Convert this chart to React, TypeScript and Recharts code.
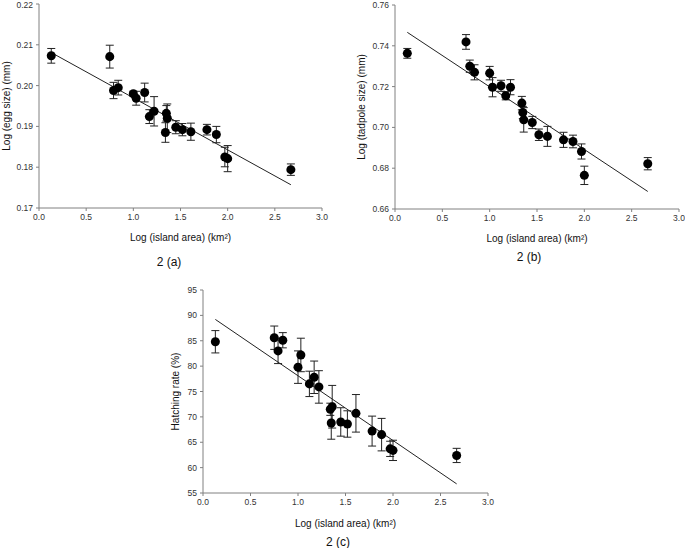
import { ErrorBar, Label, Scatter, ScatterChart, XAxis, YAxis } from "recharts";

// log10 island area (km²), same islands in every panel
const areaLog = [0.13, 0.75, 0.79, 0.84, 1.0, 1.03, 1.12, 1.17, 1.22, 1.34, 1.35, 1.36, 1.45, 1.52, 1.61, 1.78, 1.88, 1.97, 2.0, 2.67];

const eggSize = [0.2073, 0.2071, 0.1988, 0.1995, 0.198, 0.1969, 0.1983, 0.1924, 0.1937, 0.1885, 0.1932, 0.192, 0.1898, 0.1892, 0.1887, 0.1892, 0.188, 0.1825, 0.1821, 0.1794];
const eggErr = [0.0018, 0.0028, 0.002, 0.0018, 0.0006, 0.0017, 0.0023, 0.0017, 0.0036, 0.0024, 0.0019, 0.0035, 0.0016, 0.0015, 0.0021, 0.0013, 0.002, 0.0024, 0.0032, 0.0014];

const tadpoleSize = [0.7363, 0.7419, 0.73, 0.727, 0.7266, 0.7197, 0.7204, 0.7155, 0.7197, 0.7119, 0.7073, 0.7037, 0.7024, 0.6964, 0.6956, 0.6939, 0.6931, 0.6882, 0.6765, 0.6822];
const tadpoleErr = [0.0024, 0.0036, 0.003, 0.0037, 0.0033, 0.0047, 0.0027, 0.002, 0.0037, 0.0033, 0.003, 0.006, 0.003, 0.0028, 0.0049, 0.0037, 0.0031, 0.0037, 0.0045, 0.003];

const hatchRate = [84.8, 85.6, 83.0, 85.1, 79.8, 82.2, 76.5, 77.8, 75.9, 71.5, 68.8, 72.0, 69.0, 68.6, 70.7, 67.2, 66.5, 63.7, 63.4, 62.4];
const hatchErr = [2.2, 2.3, 2.5, 1.5, 3.2, 3.3, 2.5, 3.2, 3.2, 1.2, 3.2, 4.2, 2.8, 2.6, 3.7, 2.95, 3.2, 1.5, 2.0, 1.4];

// regression line end points
const fitX = [0.13, 2.67];
const eggFit = [0.2081, 0.1757];
const tadpoleFit = [0.7466, 0.6686];
const hatchFit = [89.2, 56.8];

const xTicks = [0, 0.5, 1, 1.5, 2, 2.5, 3];
const eggTicks = [0.17, 0.18, 0.19, 0.2, 0.21, 0.22];
const tadpoleTicks = [0.66, 0.68, 0.7, 0.72, 0.74, 0.76];
const hatchTicks = [55, 60, 65, 70, 75, 80, 85, 90, 95];

const FONT = "'Liberation Sans', Arial, sans-serif";
const AXIS = "#808080";
const INK = "#111";

const toPoints = (ys: number[], errs?: number[]) =>
  areaLog.map((x, i) => ({ x, y: ys[i], err: errs ? errs[i] : 0 }));

const noDot = () => <g />;

type PanelProps = {
  left: number;
  top: number;
  width: number;
  height: number;
  margin: { top: number; right: number; bottom: number; left: number };
  yWidth: number;
  xHeight: number;
  yTicks: number[];
  yDigits: number;
  yLabel: string;
  values: number[];
  errors: number[];
  fit: number[];
};

function Panel(p: PanelProps) {
  const tick = { fill: "#333", fontSize: 8.5, fontFamily: FONT };
  return (
    <div style={{ position: "absolute", left: p.left, top: p.top }}>
      <ScatterChart width={p.width} height={p.height} margin={p.margin}>
        <XAxis
          type="number"
          dataKey="x"
          domain={[0, 3]}
          ticks={xTicks}
          tickFormatter={(v: number) => v.toFixed(1)}
          height={p.xHeight}
          stroke={AXIS}
          tickSize={3}
          tickMargin={3}
          tick={tick}
        >
          <Label
            value="Log (island area) (km²)"
            position="insideBottom"
            offset={0}
            style={{ fontSize: 10, fontFamily: FONT, fill: INK }}
          />
        </XAxis>
        <YAxis
          type="number"
          dataKey="y"
          domain={[p.yTicks[0], p.yTicks[p.yTicks.length - 1]]}
          ticks={p.yTicks}
          tickFormatter={(v: number) => v.toFixed(p.yDigits)}
          width={p.yWidth}
          stroke={AXIS}
          tickSize={3}
          tickMargin={3}
          tick={tick}
        >
          <Label
            value={p.yLabel}
            angle={-90}
            position="insideLeft"
            style={{ fontSize: 10, fontFamily: FONT, fill: INK, textAnchor: "middle" }}
          />
        </YAxis>
        <Scatter
          data={fitX.map((x, i) => ({ x, y: p.fit[i] }))}
          line={{ stroke: "#222", strokeWidth: 1 }}
          shape={noDot}
          isAnimationActive={false}
        />
        <Scatter data={toPoints(p.values, p.errors)} fill="#000" isAnimationActive={false}>
          <ErrorBar dataKey="err" direction="y" width={4} stroke="#222" strokeWidth={1} />
        </Scatter>
      </ScatterChart>
    </div>
  );
}

function Caption({ x, y, text }: { x: number; y: number; text: string }) {
  return (
    <div
      style={{
        position: "absolute",
        left: x - 30,
        top: y - 7,
        width: 60,
        textAlign: "center",
        fontFamily: FONT,
        fontSize: 12,
        lineHeight: "14px",
        color: INK,
      }}
    >
      {text}
    </div>
  );
}

export default function App() {
  return (
    <div style={{ position: "absolute", left: 0, top: 0, width: 685, height: 548, background: "#fff" }}>
      <Panel
        left={0}
        top={0}
        width={340}
        height={275}
        margin={{ top: 4, right: 18, bottom: 34, left: 1 }}
        yWidth={38}
        xHeight={33}
        yTicks={eggTicks}
        yDigits={2}
        yLabel="Log (egg size) (mm)"
        values={eggSize}
        errors={eggErr}
        fit={eggFit}
      />
      <Panel
        left={340}
        top={0}
        width={345}
        height={275}
        margin={{ top: 5, right: 6, bottom: 33, left: 16 }}
        yWidth={39}
        xHeight={33}
        yTicks={tadpoleTicks}
        yDigits={2}
        yLabel="Log (tadpole size) (mm)"
        values={tadpoleSize}
        errors={tadpoleErr}
        fit={tadpoleFit}
      />
      <Panel
        left={170}
        top={280}
        width={340}
        height={268}
        margin={{ top: 10, right: 22, bottom: 21, left: 0 }}
        yWidth={33}
        xHeight={34}
        yTicks={hatchTicks}
        yDigits={0}
        yLabel="Hatching rate (%)"
        values={hatchRate}
        errors={hatchErr}
        fit={hatchFit}
      />
      <Caption x={169} y={262} text="2 (a)" />
      <Caption x={529} y={257} text="2 (b)" />
      <Caption x={338} y={542} text="2 (c)" />
    </div>
  );
}
